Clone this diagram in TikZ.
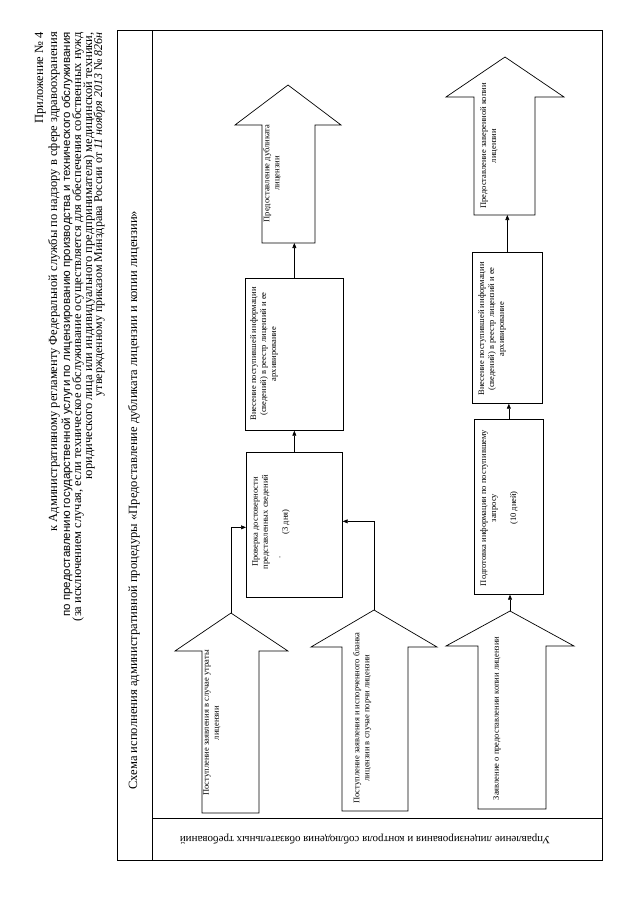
\documentclass[tikz,border=0pt]{standalone}
\usepackage{fontspec}
\setmainfont{Liberation Serif}
\setsansfont{Liberation Sans}
\usetikzlibrary{arrows.meta,calc}
\begin{document}
\begin{tikzpicture}[x=1pt,y=-1pt,
  frame/.style={line width=0.8pt},
  box/.style={draw, line width=0.7pt, inner sep=0, anchor=north west},
  blk/.style={draw, line width=0.7pt, line join=miter},
  conn/.style={line width=0.6pt, -{Triangle[length=5pt,width=4pt]}},
  vtxt/.style={rotate=90, anchor=north, align=center, inner sep=0, font=\fontsize{8.5}{10}\selectfont},
  hdr/.style={rotate=90, anchor=base east, inner sep=0, font=\fontsize{12.5}{14}\selectfont},
]
\useasboundingbox (0,0) rectangle (640,905);

% frame
\draw[frame] (117,30) rectangle (602,860);
\draw[frame] (152,30) -- (152,860);
\draw[frame] (152,818) -- (602,818);

% header
\node[hdr] (h1) at (43,32) {Приложение № 4};
\node[hdr] (h2) at (57,32) {к Административному регламенту Федеральной службы по надзору в сфере здравоохранения};
\node[hdr,font=\sffamily\fontsize{11.5}{13}\selectfont] (h3) at (70,32) {по предоставлению государственной услуги по лицензированию производства и технического обслуживания};
\node[hdr] (h4) at (81,32) {(за исключением случая, если техническое обслуживание осуществляется для обеспечения собственных нужд};
\node[hdr] (h5) at (92,32) {юридического лица или индивидуального предпринимателя) медицинской техники,};
\node[hdr,font=\fontsize{12}{14}\selectfont] (h6) at (102,32) {утвержденному приказом Минздрава России от \textit{11 ноября 2013} № \textit{826н}};

% title
\node[rotate=90, anchor=base west, inner sep=0, font=\fontsize{12.6}{15}\selectfont] (title) at (137,790) {Схема исполнения административной процедуры «Предоставление дубликата лицензии и копии лицензии»};

% lane label
\node[rotate=180, font=\fontsize{11}{13}\selectfont, inner sep=0] (lane) at (365,839) {Управление лицензирования и контроля соблюдения обязательных требований};

% boxes
\node[box, minimum width=96pt, minimum height=145pt] (boxA) at (246,452) {};
\node[box, minimum width=98pt, minimum height=152pt] (boxB) at (245,278) {};
\node[box, minimum width=69pt, minimum height=175pt] (boxC) at (474,419) {};
\node[box, minimum width=70pt, minimum height=151pt] (boxD) at (472,252) {};

% block arrows
\draw[blk] (262,243) -- (262,125) -- (235,125) -- (288,85) -- (341,125) -- (315,125) -- (315,243) -- cycle;
\coordinate (out1b) at (288,243);
\draw[blk] (474,215) -- (474,97) -- (446,97) -- (505,57) -- (564,97) -- (535,97) -- (535,215) -- cycle;
\coordinate (out2b) at (505,215);
\draw[blk] (202,813) -- (202,651) -- (175,651) -- (231,613) -- (288,651) -- (259,651) -- (259,813) -- cycle;
\coordinate (in1tip) at (231,613);
\draw[blk] (342,811) -- (342,647) -- (311,647) -- (374,610) -- (437,647) -- (408,647) -- (408,811) -- cycle;
\coordinate (in2tip) at (374,610);
\draw[blk] (478,809) -- (478,646) -- (446,646) -- (510,611) -- (574,646) -- (546,646) -- (546,809) -- cycle;
\coordinate (in3tip) at (510,611);

% connectors
\draw[conn] (in1tip) |- ([yshift=-2.5pt]boxA.west);
\draw[conn] (in2tip) |- ([yshift=3.5pt]boxA.east);
\draw[conn] (boxA.north) -- (boxB.south);
\draw[conn] (boxB.north) -- (boxB.north |- out1b);
\draw[conn] (in3tip) -- (in3tip |- boxC.south);
\draw[conn] (boxC.north) -- (boxC.north |- boxD.south);
\draw[conn] (boxD.north) -- (boxD.north |- out2b);

% texts
\node[vtxt] (tA) at (252,522) {Проверка достоверности\\представленных сведений\\[10pt](3 дня)};
\node[rotate=90, inner sep=0, font=\fontsize{8.5}{10}\selectfont] (dotA) at (280,557) {.};
\node[vtxt] (tB) at (250,354) {Внесение поступившей информации\\(сведений) в реестр лицензий и ее\\архивирование};
\node[vtxt] (tC) at (480,508) {Подготовка информации по поступившему\\запросу\\[10pt](10 дней)};
\node[vtxt] (tD) at (478,329) {Внесение поступившей информации\\(сведений) в реестр лицензий и ее\\архивирование};
\node[vtxt] (tO1) at (263,173.5) {Предоставление дубликата\\лицензии};
\node[vtxt] (tO2) at (480,146) {Предоставление заверенной копии\\лицензии};
\node[vtxt] (tI1) at (203,723) {Поступление заявления в случае утраты\\лицензии};
\node[vtxt] (tI2) at (353,718) {Поступление заявления и испорченного бланка\\лицензии в случае порчи лицензии};
\node[vtxt] (tI3) at (493,718.5) {Заявление о предоставлении копии лицензии};
\end{tikzpicture}
\end{document}
